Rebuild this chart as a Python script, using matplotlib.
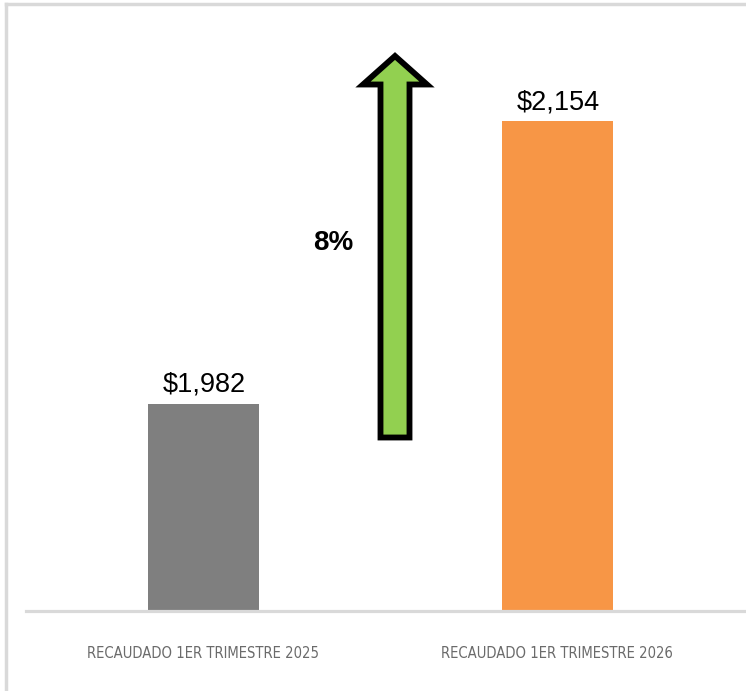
import matplotlib.pyplot as plt
from matplotlib import font_manager as fm
from matplotlib.lines import Line2D
from matplotlib.patches import Polygon

# --- Data ---
categories = ['RECAUDADO 1ER TRIMESTRE 2025', 'RECAUDADO 1ER TRIMESTRE 2026']
values = [1982, 2154]
value_labels = ['$1,982', '$2,154']
growth_label = '8%'

bar_colors = ['#7f7f7f', '#f79646']

W, H = 746, 691
DPI = 100


def px(x, y):
    # pixel coords (top-left origin) -> figure fraction
    return (x / W, 1 - y / H)


# --- pick the narrowest font available for the category labels ---
fonts = {(f.name, f.stretch) for f in fm.fontManager.ttflist}
if any(n == 'Liberation Sans Narrow' for n, s in fonts):
    cat_font = dict(family='Liberation Sans Narrow', fontsize=12)
elif ('DejaVu Sans', 'condensed') in fonts or ('DejaVu Sans', 600) in fonts:
    cat_font = dict(family='DejaVu Sans', fontstretch='condensed', fontsize=10.6)
else:
    cat_font = dict(family='DejaVu Sans', fontsize=9.6)

fig = plt.figure(figsize=(W / DPI, H / DPI), dpi=DPI)
fig.patch.set_facecolor('white')

# --- light chart frame (only top and left show in the crop) ---
fig.lines.append(Line2D([px(5.5, 0)[0], 1], [px(0, 4)[1]] * 2, transform=fig.transFigure,
                        color='#d9d9d9', linewidth=2.5))
fig.lines.append(Line2D([px(5.5, 0)[0]] * 2, [0, px(0, 4)[1]], transform=fig.transFigure,
                        color='#d9d9d9', linewidth=2.5))

ax = fig.add_axes([26 / W, 80 / H, 720 / W, 591 / H])
ax.set_facecolor('none')

xpos = list(range(len(categories)))
ax.bar(xpos, values, width=0.3144, color=bar_colors, zorder=2)

ax.set_xlim(-0.501, 1.533)
ax.set_ylim(1856, 2215.5)

for s in ['top', 'right', 'left']:
    ax.spines[s].set_visible(False)
ax.spines['bottom'].set_color('#d9d9d9')
ax.spines['bottom'].set_linewidth(2.3)
ax.spines['bottom'].set_zorder(3)

ax.set_yticks([])
ax.set_xticks(xpos)
ax.set_xticklabels(categories, color='#6b6b6b', **cat_font)
ax.tick_params(axis='x', length=0, pad=25)

# --- value labels ---
for i, v in enumerate(values):
    ax.annotate(value_labels[i], (xpos[i], v), xytext=(1, 8.6),
                textcoords='offset points', ha='center', va='baseline',
                fontsize=19.5, family='Liberation Sans', color='black')

# --- growth arrow ---
arrow_pts = [px(380.5, 437.5), px(409.5, 437.5), px(409.5, 84.5),
             px(427, 84.5), px(395, 56), px(363, 84.5), px(380.5, 84.5)]
fig.patches.append(Polygon(arrow_pts, closed=True, transform=fig.transFigure,
                           facecolor='#92d050', edgecolor='black',
                           linewidth=4.2, joinstyle='miter', zorder=5))

fig.text(*px(333, 250), growth_label, ha='center', va='baseline',
         fontsize=20, fontweight='bold', family='Liberation Sans')

fig.savefig('out.png', dpi=DPI)
